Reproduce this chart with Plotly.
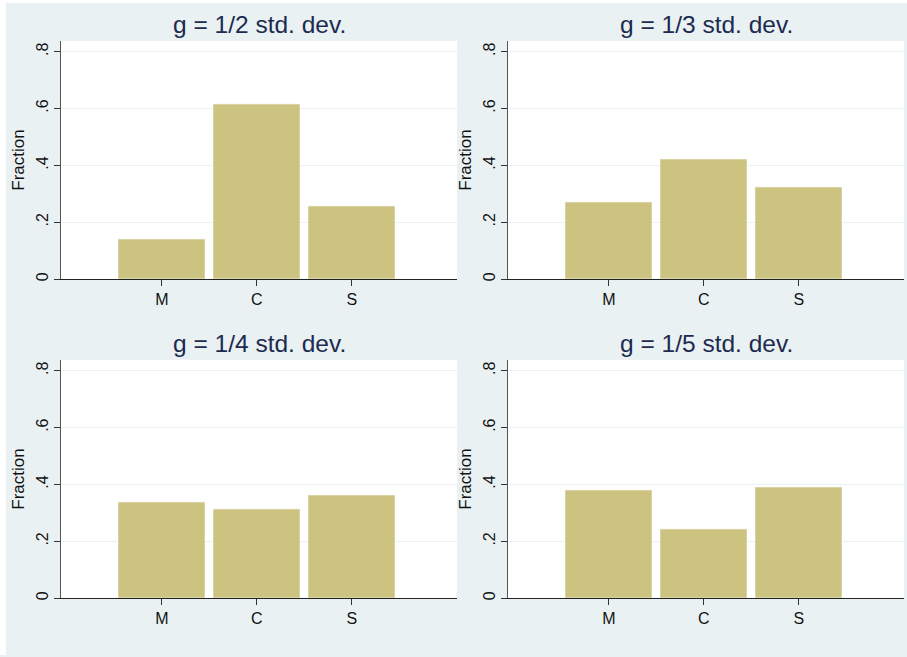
import plotly.graph_objects as go

categories = ["M", "C", "S"]
cat_pos = [1, 2, 3]
titles = ["g = 1/2 std. dev.", "g = 1/3 std. dev.", "g = 1/4 std. dev.", "g = 1/5 std. dev."]
vals_half = [0.138, 0.613, 0.255]
vals_third = [0.267, 0.418, 0.320]
vals_quarter = [0.336, 0.309, 0.361]
vals_fifth = [0.378, 0.241, 0.387]
ytick_vals = [0, 0.2, 0.4, 0.6, 0.8]
ytick_text = ["0", ".2", ".4", ".6", ".8"]

W, H = 907, 657
BG = "#EAF1F3"
BAR = "#CBC37F"
BAR_LINE = "#D8D2A3"
TITLE_C = "#1C2B4F"
FONT = "Liberation Sans, Arial, sans-serif"

series = [vals_half, vals_third, vals_quarter, vals_fifth]
# pixel boxes (left, right, top, bottom)
boxes = [(61, 457, 41, 280), (508, 904, 41, 280), (61, 457, 361, 600), (508, 904, 361, 600)]

fig = go.Figure()
for i, (vals, box) in enumerate(zip(series, boxes)):
    n = "" if i == 0 else str(i + 1)
    fig.add_trace(go.Bar(
        x=cat_pos, y=vals, width=0.9,
        marker=dict(color=BAR, line=dict(color=BAR_LINE, width=1)),
        xaxis="x" + n, yaxis="y" + n, showlegend=False, hoverinfo="skip",
    ))
    l, r, t, b = box
    xd = [l / W, r / W]
    yd = [1 - b / H, 1 - t / H]
    fig.layout["xaxis" + n] = dict(
        domain=xd, anchor="y" + n, range=[-0.063, 4.108],
        tickvals=cat_pos, ticktext=categories, ticks="outside", ticklen=6,
        tickcolor="#333333", showline=True, linecolor="#222222", linewidth=1.2,
        showgrid=False, zeroline=False,
        tickfont=dict(family=FONT, size=16, color="#111111"),
    )
    fig.layout["yaxis" + n] = dict(
        domain=yd, anchor="x" + n, range=[0, 0.838],
        tickvals=ytick_vals, ticktext=ytick_text, tickangle=-90,
        ticks="outside", ticklen=6, tickcolor="#333333",
        showline=True, linecolor="#555555", linewidth=1.2,
        showgrid=True, gridcolor=BG, gridwidth=1, zeroline=False,
        tickfont=dict(family=FONT, size=16, color="#111111"),
        title=dict(text="Fraction", standoff=4,
                   font=dict(family=FONT, size=17, color="#111111")),
    )
    fig.add_annotation(
        text=titles[i], xref="paper", yref="paper",
        x=(l + r) / 2 / W, y=1 - (t - 16) / H, xanchor="center", yanchor="middle",
        showarrow=False, font=dict(family=FONT, size=24.5, color=TITLE_C),
    )

# white strips at the left and top edges of the image
fig.add_shape(type="rect", xref="paper", yref="paper", x0=0, x1=6 / W, y0=0, y1=1,
              fillcolor="white", line=dict(width=0), layer="below")
fig.add_shape(type="rect", xref="paper", yref="paper", x0=0, x1=1, y0=1 - 3 / H, y1=1,
              fillcolor="white", line=dict(width=0), layer="below")

fig.update_layout(
    width=W, height=H, margin=dict(l=0, r=0, t=0, b=0),
    paper_bgcolor=BG, plot_bgcolor="white", bargap=0,
    font=dict(family=FONT),
)
fig.write_html("out.html", config={"displayModeBar": False},
               post_script="document.body.style.margin='0';document.body.style.overflow='hidden';")
